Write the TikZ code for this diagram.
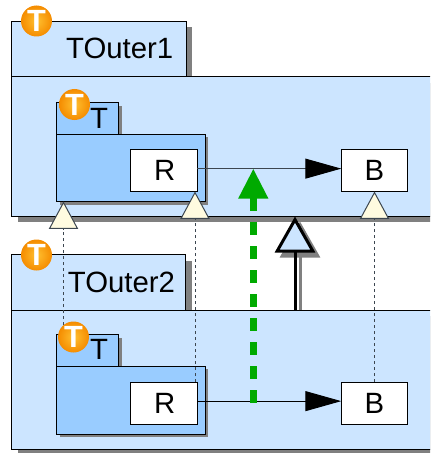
\documentclass[tikz,border=0pt]{standalone}
\usepackage{fontspec}
\setmainfont{Liberation Sans}
\usetikzlibrary{arrows.meta,shadows}
\definecolor{outerblue}{HTML}{CCE5FF}
\definecolor{innerblue}{HTML}{99CCFF}
\definecolor{shadowgray}{HTML}{808080}
\definecolor{tipcream}{HTML}{FFFBE0}
\definecolor{flowgreen}{HTML}{00AA00}
\definecolor{tracegray}{HTML}{3C4650}
\definecolor{iconmid}{HTML}{FFC030}
\definecolor{iconrim}{HTML}{F58C00}
\def\u{.75pt}
\tikzset{
	wh/.style 2 args={minimum width=#1*\u,minimum height=#2*\u},
	box/.style={draw=black,line width=\u,rectangle,inner sep=0pt,outer sep=0pt},
	outerbox/.style={box,fill=outerblue,drop shadow={shadow xshift=6*\u,shadow yshift=-6*\u,fill=shadowgray,opacity=1}},
	innerbox/.style={box,fill=innerblue,drop shadow={shadow xshift=3*\u,shadow yshift=-3*\u,fill=shadowgray,opacity=1}},
	part/.style={box,fill=white,wh={66.5}{42},font=\fontsize{22}{22}\selectfont},
	lbl/.style={inner sep=0pt,font=\fontsize{22}{22}\selectfont},
	ticon/.style={circle,inner sep=0pt,minimum size=31*\u,inner color=iconmid,outer color=iconrim,text=white,font=\fontsize{23}{23}\bfseries\selectfont},
	conn/.style={line width=\u,-{Triangle[length=27pt,width=15pt,fill=black,color=black]}},
	trace/.style={draw=tracegray,line width=\u,dash pattern=on 2.25pt off 2.25pt,-{Triangle[open,fill=tipcream,length=20.6pt,width=22pt,line width=.75pt]}}
}
\begin{document}
\begin{tikzpicture}[x=\u,y=-\u,line join=miter]
	\path[use as bounding box,clip] (0,0) rectangle (430,453);
	% upper package
	\node[outerbox,wh={174.5}{55.5}] (tab1) at (98.75,49.25) {};
	\node[outerbox,wh={430}{139}] (outer1) at (226.5,146.5) {};
	\node[innerbox,wh={62}{31.5}] (ttab1) at (87.5,118.25) {};
	\node[innerbox,wh={148.5}{67.5}] (tbody1) at (130.75,167.75) {};
	\node[part] (R1) at (163.75,170.5) {\hspace{1.5pt}R};
	\node[part] (B1) at (374.5,170.5) {B};
	% lower package
	\node[outerbox,wh={174}{55.5}] (tab2) at (98.5,282.25) {};
	\node[outerbox,wh={430}{139.5}] (outer2) at (226.5,379.75) {};
	\node[innerbox,wh={62}{31.5}] (ttab2) at (87.5,350.5) {};
	\node[innerbox,wh={148.5}{68}] (tbody2) at (130.75,400) {};
	\node[part] (R2) at (163.75,403) {\hspace{1.5pt}R};
	\node[part] (B2) at (374.5,403) {B};
	% free ends
	\coordinate (traceT) at (63.5,325);
	\coordinate (inhLow) at (295,310);
	\coordinate (inhHigh) at (295,216.5);
	\coordinate (inhLowS) at (300,310);
	\coordinate (inhHighS) at (300,221.5);
	\coordinate (flowLow) at (253.3,402.7);
	\coordinate (flowHigh) at (253.3,168.5);
	% connectors
	\draw[conn,draw=tracegray] ([yshift=1.4pt]R1.east)--([yshift=1.4pt]B1.west);
	\draw[conn] ([yshift=1.4pt]R2.east)--([yshift=1.4pt]B2.west);
	\draw[trace] (traceT)--([xshift=7*\u]tbody1.south west);
	\draw[trace] ([xshift=-2*\u]R2.north east)--([xshift=-2*\u]R1.south east);
	\draw[trace] (B2.north)--(B1.south);
	\draw[draw=shadowgray,line width=2.25pt,-{Triangle[open,fill=shadowgray,length=27pt,width=30pt]}] (inhLowS)--(inhHighS);
	\draw[draw=black,line width=2.25pt,-{Triangle[open,fill=outerblue,length=27pt,width=30pt]}] (inhLow)--(inhHigh);
	\draw[draw=flowgreen,line width=5.25pt,dash pattern=on 9.5pt off 8.5pt,-{Triangle[length=22.5pt,width=21pt]}] (flowLow)--(flowHigh);
	% labels
	\node[lbl] (name1) at (119.7,48.5) {TOuter1};
	\node[lbl] (name2) at (121.5,282) {TOuter2};
	\node[lbl] (tname1) at (99,118) {T};
	\node[lbl] (tname2) at (99,349.5) {T};
	% icons
	\node[ticon] (iconA) at (36.5,21) {T};
	\node[ticon] (iconB) at (74.5,104.5) {T};
	\node[ticon] (iconC) at (36.5,255) {T};
	\node[ticon] (iconD) at (73.5,337) {T};
\end{tikzpicture}
\end{document}
